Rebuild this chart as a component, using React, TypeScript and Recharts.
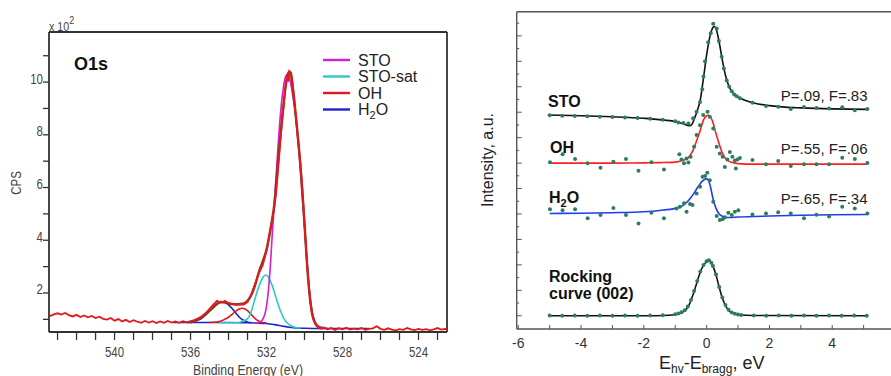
import React from 'react';
import { LineChart, Line, XAxis, YAxis, ReferenceLine } from 'recharts';

type P = [number, number];

const SANS = "'Liberation Sans', Arial, sans-serif";

// ---------- left panel: O1s spectrum (eV, x100 CPS) ----------
const o1sMeasured: P[] = [
  [543.4, 1.12], [543.2, 1.19], [543.0, 1.23], [542.8, 1.18], [542.6, 1.24], [542.4, 1.16], [542.2, 1.11],
  [542.0, 1.17], [541.8, 1.09], [541.6, 1.15], [541.4, 1.08], [541.2, 1.13], [541.0, 1.05], [540.8, 1.1],
  [540.6, 1.02], [540.4, 0.99], [540.2, 1.05], [540.0, 0.95], [539.8, 1.01], [539.6, 0.92], [539.4, 0.98],
  [539.2, 0.9], [539.0, 0.97], [538.8, 0.91], [538.6, 0.87], [538.4, 0.94], [538.2, 0.88], [538.0, 0.93],
  [537.8, 0.86], [537.6, 0.92], [537.4, 0.87], [537.2, 0.94], [537.0, 0.88], [536.8, 0.92], [536.6, 0.87],
  [536.4, 0.93], [536.2, 0.89], [536.0, 0.93], [535.8, 0.97], [535.6, 1.04], [535.4, 1.12], [535.2, 1.24],
  [535.0, 1.4], [534.8, 1.56], [534.6, 1.71], [534.5, 1.65], [534.4, 1.68], [534.3, 1.64], [534.2, 1.7],
  [534.0, 1.62], [533.8, 1.58], [533.6, 1.55], [533.4, 1.57], [533.2, 1.56], [533.0, 1.66], [532.8, 1.95],
  [532.6, 2.35], [532.4, 2.75], [532.2, 3.05], [532.0, 3.6], [531.9, 3.95], [531.8, 4.35], [531.7, 4.8],
  [531.6, 5.2], [531.5, 5.75], [531.4, 6.6], [531.3, 7.5], [531.2, 8.35], [531.1, 9.05], [531.0, 9.85],
  [530.9, 10.3], [530.85, 10.02], [530.8, 10.42], [530.7, 10.35], [530.6, 9.75], [530.5, 9.0], [530.4, 8.3],
  [530.3, 7.55], [530.2, 6.75], [530.1, 5.85], [530.0, 4.65], [529.9, 3.45], [529.8, 2.5], [529.7, 1.7],
  [529.6, 1.22], [529.5, 0.95], [529.4, 0.8], [529.3, 0.72], [529.2, 0.65], [529.0, 0.69], [528.8, 0.62],
  [528.6, 0.67], [528.4, 0.6], [528.2, 0.66], [528.0, 0.62], [527.8, 0.68], [527.6, 0.61], [527.4, 0.65],
  [527.2, 0.62], [527.0, 0.67], [526.8, 0.6], [526.6, 0.64], [526.4, 0.66], [526.2, 0.74], [526.0, 0.64],
  [525.8, 0.6], [525.6, 0.66], [525.4, 0.61], [525.2, 0.58], [525.0, 0.63], [524.8, 0.6], [524.6, 0.67],
  [524.4, 0.62], [524.2, 0.59], [524.0, 0.64], [523.8, 0.6], [523.6, 0.63], [523.4, 0.58], [523.2, 0.62],
  [523.0, 0.67], [522.8, 0.61], [522.6, 0.64], [522.5, 0.63],
];
const o1sEnvelope: P[] = [
  [536.0, 0.88], [535.6, 1.0], [535.2, 1.2], [534.8, 1.45], [534.6, 1.58], [534.4, 1.65], [534.2, 1.65],
  [534.0, 1.6], [533.8, 1.58], [533.6, 1.57], [533.4, 1.58], [533.2, 1.6], [533.0, 1.7], [532.8, 1.92],
  [532.6, 2.3], [532.4, 2.8], [532.2, 3.2], [532.0, 3.65], [531.8, 4.4], [531.6, 5.3], [531.4, 6.9],
  [531.2, 8.5], [531.0, 9.8], [530.9, 10.25], [530.8, 10.38], [530.7, 10.25], [530.6, 9.7], [530.4, 8.3],
  [530.2, 6.7], [530.0, 4.6], [529.8, 2.45], [529.6, 1.2], [529.4, 0.8], [529.2, 0.68], [529.0, 0.66],
];
const o1sBackground: P[] = [
  [536.9, 0.88], [536.0, 0.88], [535.0, 0.88], [534.0, 0.88], [533.0, 0.87], [532.5, 0.86], [532.0, 0.84],
  [531.6, 0.8], [531.2, 0.75], [530.8, 0.7], [530.4, 0.67], [530.0, 0.66], [529.0, 0.65], [528.0, 0.65],
  [527.0, 0.65], [526.6, 0.65],
];
const o1sSto: P[] = [
  [532.6, 0.86], [532.4, 0.88], [532.2, 1.0], [532.0, 1.5], [531.9, 2.1], [531.8, 3.0], [531.7, 4.2],
  [531.6, 5.3], [531.5, 6.4], [531.4, 7.5], [531.3, 8.5], [531.2, 9.3], [531.1, 9.85], [531.0, 10.2],
  [530.9, 10.3], [530.8, 10.2], [530.7, 9.85], [530.6, 9.4], [530.5, 8.9], [530.4, 8.2], [530.3, 7.4],
  [530.2, 6.5], [530.1, 5.5], [530.0, 4.5], [529.9, 3.5], [529.8, 2.55], [529.7, 1.8], [529.6, 1.3],
  [529.5, 1.0], [529.4, 0.85], [529.2, 0.72], [529.0, 0.68], [528.8, 0.66],
];
const o1sStoSat: P[] = [
  [534.5, 0.87], [533.6, 0.87], [533.4, 0.89], [533.2, 0.95], [533.0, 1.02], [532.8, 1.3], [532.6, 1.8],
  [532.4, 2.25], [532.2, 2.58], [532.05, 2.68], [531.9, 2.6], [531.7, 2.28], [531.5, 1.82], [531.3, 1.38],
  [531.1, 1.05], [530.9, 0.85], [530.7, 0.75], [530.5, 0.7], [530.2, 0.67],
];
const o1sOh: P[] = [
  [535.0, 0.88], [534.6, 0.9], [534.4, 0.94], [534.2, 1.0], [534.0, 1.08], [533.8, 1.2], [533.6, 1.32],
  [533.4, 1.4], [533.3, 1.42], [533.2, 1.41], [533.0, 1.33], [532.8, 1.18], [532.6, 1.03], [532.4, 0.93],
  [532.2, 0.88], [532.0, 0.86],
];
const o1sH2o: P[] = [
  [536.2, 0.88], [536.0, 0.89], [535.8, 0.92], [535.6, 0.97], [535.4, 1.05], [535.2, 1.17], [535.0, 1.32],
  [534.8, 1.48], [534.6, 1.6], [534.4, 1.66], [534.2, 1.64], [534.0, 1.55], [533.8, 1.4], [533.6, 1.22],
  [533.4, 1.06], [533.2, 0.96], [533.0, 0.9], [532.8, 0.87],
];

const beTicks = [543, 542, 541, 540, 539, 538, 537, 536, 535, 534, 533, 532, 531, 530, 529, 528, 527, 526, 525, 524, 523];
const cpsTicks = [1, 2, 3, 4, 5, 6, 7, 8, 9, 10, 11];
const legendItems = [
  { name: 'STO', color: '#d11fd1' },
  { name: 'STO-sat', color: '#2ec8c8' },
  { name: 'OH', color: '#e3191c' },
  { name: 'H2O', color: '#1f23c8' },
];

// ---------- right panel: yield curves (eV, a.u.) ----------
const stoFit: P[] = [
  [-5.0, 7.89], [-4.0, 7.86], [-3.0, 7.82], [-2.0, 7.76], [-1.5, 7.71], [-1.0, 7.63], [-0.8, 7.57],
  [-0.65, 7.5], [-0.55, 7.47], [-0.48, 7.5], [-0.4, 7.72], [-0.3, 8.05], [-0.2, 8.5], [-0.1, 9.35],
  [0.0, 10.25], [0.1, 10.95], [0.2, 11.33], [0.25, 11.37], [0.3, 11.28], [0.4, 10.75], [0.5, 10.05],
  [0.6, 9.45], [0.7, 9.05], [0.8, 8.82], [0.9, 8.68], [1.0, 8.6], [1.2, 8.48], [1.5, 8.36], [2.0, 8.26],
  [2.5, 8.2], [3.0, 8.17], [4.0, 8.13], [5.1, 8.11],
];
const stoPts: P[] = [
  [-5.0, 7.88], [-4.6, 7.86], [-4.2, 7.85], [-3.8, 7.84], [-3.4, 7.82], [-3.0, 7.81], [-2.6, 7.79],
  [-2.2, 7.77], [-1.8, 7.74], [-1.4, 7.7], [-1.0, 7.64], [-0.9, 7.6], [-0.74, 7.58], [-0.58, 7.56],
  [-0.43, 7.76], [-0.32, 8.02], [-0.21, 8.4], [-0.14, 8.9], [-0.1, 9.4], [-0.05, 10.0], [0.05, 10.75],
  [0.13, 11.1], [0.21, 11.48], [0.32, 11.29], [0.39, 10.8], [0.48, 10.18], [0.55, 9.72], [0.64, 9.25],
  [0.72, 9.0], [0.8, 8.82], [0.88, 8.7], [0.96, 8.63], [1.06, 8.55], [1.46, 8.37], [1.89, 8.24],
  [2.28, 8.21], [2.68, 8.13], [3.1, 8.2], [3.5, 8.17], [3.9, 8.15], [4.32, 8.19], [4.72, 8.08], [5.12, 8.13],
];
const ohFit: P[] = [
  [-5.0, 6.0], [-3.0, 6.0], [-2.0, 6.01], [-1.5, 6.02], [-1.0, 6.04], [-0.8, 6.09], [-0.6, 6.2],
  [-0.5, 6.35], [-0.4, 6.6], [-0.3, 6.95], [-0.2, 7.3], [-0.1, 7.7], [0.0, 7.86], [0.05, 7.88],
  [0.1, 7.85], [0.2, 7.6], [0.3, 7.15], [0.4, 6.75], [0.5, 6.4], [0.6, 6.18], [0.7, 6.08], [0.8, 6.03],
  [1.0, 5.98], [1.5, 5.96], [3.0, 5.96], [5.1, 5.96],
];
const ohPts: P[] = [
  [-4.99, 6.03], [-4.59, 6.35], [-4.19, 6.16], [-3.79, 5.99], [-3.38, 5.82], [-2.97, 6.05], [-2.57, 6.16],
  [-2.17, 5.7], [-1.76, 6.03], [-1.36, 5.75], [-0.87, 6.35], [-0.8, 6.14], [-0.72, 5.99], [-0.64, 6.18],
  [-0.58, 6.02], [-0.51, 6.25], [-0.4, 6.64], [-0.32, 7.1], [-0.21, 7.49], [-0.11, 7.89], [0.03, 8.02],
  [0.1, 7.82], [0.21, 7.36], [0.32, 6.64], [0.42, 6.38], [0.51, 6.25], [0.58, 5.85], [0.66, 6.14],
  [0.74, 6.44], [0.82, 6.25], [0.9, 6.1], [0.93, 5.79], [0.98, 6.14], [1.06, 6.2], [1.46, 6.12],
  [1.89, 5.95], [2.28, 6.08], [2.68, 5.89], [3.1, 5.95], [3.5, 5.95], [3.9, 5.95], [4.32, 6.21],
  [4.72, 6.16], [5.12, 6.0],
];
const h2oFit: P[] = [
  [-5.0, 4.02], [-4.0, 4.03], [-3.0, 4.05], [-2.0, 4.09], [-1.5, 4.14], [-1.0, 4.22], [-0.8, 4.3],
  [-0.6, 4.5], [-0.5, 4.65], [-0.4, 4.82], [-0.3, 5.02], [-0.2, 5.2], [-0.1, 5.33], [0.0, 5.38],
  [0.05, 5.34], [0.1, 5.18], [0.2, 4.62], [0.3, 4.22], [0.4, 4.0], [0.5, 3.91], [0.6, 3.87], [0.7, 3.86],
  [1.0, 3.88], [2.0, 3.92], [3.0, 3.95], [4.0, 3.97], [5.1, 3.98],
];
const h2oPts: P[] = [
  [-4.99, 4.19], [-4.59, 4.15], [-4.19, 4.19], [-3.79, 3.83], [-3.38, 3.96], [-2.97, 4.24], [-2.57, 3.96],
  [-2.17, 3.63], [-1.76, 4.05], [-1.36, 3.83], [-0.96, 4.22], [-0.85, 4.28], [-0.72, 4.42], [-0.64, 4.09],
  [-0.53, 4.39], [-0.45, 4.35], [-0.32, 4.81], [-0.21, 5.07], [-0.13, 5.46], [-0.05, 5.49], [0.02, 5.62],
  [0.1, 5.33], [0.21, 4.48], [0.32, 3.92], [0.42, 3.76], [0.51, 3.79], [0.58, 3.87], [0.69, 4.05],
  [0.8, 3.96], [0.9, 4.09], [1.01, 4.15], [1.46, 3.98], [1.89, 4.02], [2.28, 4.07], [2.68, 4.02],
  [3.1, 3.83], [3.5, 3.97], [3.9, 3.9], [4.32, 4.28], [4.72, 4.22], [5.12, 4.02],
];
const rockFit: P[] = [
  [-5.0, 0.0], [-2.0, 0.0], [-1.2, 0.02], [-1.0, 0.05], [-0.8, 0.12], [-0.6, 0.33], [-0.5, 0.6],
  [-0.4, 0.95], [-0.3, 1.35], [-0.2, 1.72], [-0.1, 1.98], [0.0, 2.12], [0.07, 2.15], [0.15, 2.08],
  [0.2, 1.95], [0.3, 1.6], [0.4, 1.12], [0.5, 0.7], [0.6, 0.4], [0.7, 0.22], [0.8, 0.12], [1.0, 0.05],
  [1.5, 0.01], [5.1, 0.0],
];
const rockPts: P[] = [
  [-5.0, 0.01], [-4.6, 0.0], [-4.2, 0.01], [-3.8, 0.0], [-3.4, 0.01], [-3.0, 0.0], [-2.6, 0.01],
  [-2.2, 0.0], [-1.8, 0.01], [-1.4, 0.02], [-1.0, 0.06], [-0.9, 0.09], [-0.8, 0.14], [-0.7, 0.22],
  [-0.6, 0.36], [-0.5, 0.62], [-0.4, 0.97], [-0.3, 1.37], [-0.2, 1.74], [-0.1, 2.0], [0.0, 2.14],
  [0.07, 2.18], [0.15, 2.08], [0.2, 1.96], [0.3, 1.62], [0.4, 1.13], [0.5, 0.72], [0.6, 0.42],
  [0.7, 0.24], [0.8, 0.13], [0.9, 0.08], [1.0, 0.05], [1.1, 0.03], [1.5, 0.01], [1.9, 0.0], [2.3, 0.01],
  [2.7, 0.0], [3.1, 0.01], [3.5, 0.0], [3.9, 0.01], [4.3, 0.0], [4.7, 0.01], [5.1, 0.0],
];

const ehvTicks = [-6, -5, -4, -3, -2, -1, 0, 1, 2, 3, 4, 5];
const intTicks = [0, 0.5, 1, 1.5, 2, 2.5, 3, 3.5, 4, 4.5, 5, 5.5, 6, 6.5, 7, 7.5, 8, 8.5, 9, 9.5, 10, 10.5, 11, 11.5];
const fitLabels = ['P=.09, F=.83', 'P=.55, F=.06', 'P=.65, F=.34'];

const toPts = (a: P[]) => a.map(([x, y]) => ({ x, y }));

// layout
const L = { left: 49, top: 32, bottom: 332, right: 447 };
const R = { left: 56.7, bottom: 329 };
const L_X: [number, number] = [522.5, 543.45];
const L_Y: [number, number] = [0.52, 11.9];
const R_X: [number, number] = [-6.05, 6.0];
const R_Y: [number, number] = [-0.52, 11.95];

// condensed text (the original uses a narrow Arial)
const NText = ({ x, y, size, anchor = 'start', rotate = 0, children }: any) => (
  <text transform={`translate(${x} ${y}) rotate(${rotate}) scale(0.82 1)`} textAnchor={anchor}
    fontSize={size} fontFamily={SANS} fill="#444">{children}</text>
);

const BeTick = ({ x, payload }: any) => {
  const v = payload.value;
  const major = v % 4 === 0;
  return (
    <g>
      <line x1={x} x2={x} y1={L.bottom} y2={L.bottom + 8} stroke="#333" strokeWidth={1.3} />
      {major && <NText x={x} y={357} size={14} anchor="middle">{v}</NText>}
    </g>
  );
};

const CpsTick = ({ y, payload }: any) => {
  const v = payload.value;
  const major = v % 2 === 0;
  return (
    <g>
      <line x1={L.left - 6} x2={L.left} y1={y} y2={y} stroke="#333" strokeWidth={1.3} />
      {major && <NText x={L.left - 6} y={y + 1.5} size={14} anchor="end">{v}</NText>}
    </g>
  );
};

const EhvTick = ({ x, payload }: any) => {
  const v = payload.value;
  return (
    <g>
      <line x1={x} x2={x} y1={R.bottom} y2={R.bottom - 4} stroke="#555" strokeWidth={1} />
      {v % 2 === 0 && (
        <text x={x} y={348} textAnchor="middle" fontSize={14} fontFamily={SANS} fill="#333">{v}</text>
      )}
    </g>
  );
};

const IntTick = ({ y, payload }: any) => {
  const major = Number.isInteger(payload.value);
  return <line x1={R.left} x2={R.left + (major ? 5 : 2.5)} y1={y} y2={y} stroke="#555" strokeWidth={1} />;
};

const DOT = { r: 2, fill: '#2e7d5e', stroke: 'none' };

export default function App() {
  return (
    <div style={{ position: 'absolute', left: 0, top: 0, width: 891, height: 376, overflow: 'hidden', background: '#fff' }}>
      <div style={{ position: 'absolute', left: 0, top: 0 }}>
        <LineChart width={460} height={376} margin={{ top: L.top, right: 460 - L.right, bottom: 0, left: 0 }}>
          <XAxis dataKey="x" type="number" domain={L_X} allowDataOverflow reversed ticks={beTicks} interval={0}
            height={44} tick={(p: any) => <BeTick {...p} />} tickLine={false} axisLine={{ stroke: '#333', strokeWidth: 1.8 }} />
          <YAxis type="number" domain={L_Y} allowDataOverflow ticks={cpsTicks} interval={0} width={49}
            tick={(p: any) => <CpsTick {...p} />} tickLine={false} axisLine={{ stroke: '#333', strokeWidth: 1.8 }} />
          <ReferenceLine y={L_Y[1]} stroke="#333" strokeWidth={1.8} />
          <ReferenceLine x={L_X[0]} stroke="#333" strokeWidth={1.8} />
          <Line data={toPts(o1sBackground)} dataKey="y" type="monotone" stroke="#1f23c8" strokeWidth={1.6} dot={false} isAnimationActive={false} />
          <Line data={toPts(o1sH2o)} dataKey="y" type="monotone" stroke="#1f23c8" strokeWidth={1.6} dot={false} isAnimationActive={false} />
          <Line data={toPts(o1sOh)} dataKey="y" type="monotone" stroke="#e3191c" strokeWidth={1.6} dot={false} isAnimationActive={false} />
          <Line data={toPts(o1sStoSat)} dataKey="y" type="monotone" stroke="#2ec8c8" strokeWidth={1.6} dot={false} isAnimationActive={false} />
          <Line data={toPts(o1sSto)} dataKey="y" type="monotone" stroke="#d11fd1" strokeWidth={1.6} dot={false} isAnimationActive={false} />
          <Line data={toPts(o1sEnvelope)} dataKey="y" type="monotone" stroke="#8a3d1c" strokeWidth={2.4} dot={false} isAnimationActive={false} />
          <Line data={toPts(o1sMeasured)} dataKey="y" type="linear" stroke="#e3191c" strokeWidth={1.8} dot={false} isAnimationActive={false} />
        </LineChart>
      </div>
      <div style={{ position: 'absolute', left: 460, top: 0 }}>
        <LineChart width={440} height={376} margin={{ top: 11.7, right: 5, bottom: 0, left: 0 }}>
          <XAxis dataKey="x" type="number" domain={R_X} allowDataOverflow ticks={ehvTicks} interval={0}
            height={47} tick={(p: any) => <EhvTick {...p} />} tickLine={false} axisLine={{ stroke: '#555', strokeWidth: 1.4 }} />
          <YAxis type="number" domain={R_Y} allowDataOverflow ticks={intTicks} interval={0} width={R.left}
            tick={(p: any) => <IntTick {...p} />} tickLine={false} axisLine={{ stroke: '#555', strokeWidth: 1.4 }} />
          <ReferenceLine y={R_Y[1]} stroke="#555" strokeWidth={1.4} />
          <Line data={toPts(stoFit)} dataKey="y" type="monotone" stroke="#111" strokeWidth={1.6} dot={false} isAnimationActive={false} />
          <Line data={toPts(ohFit)} dataKey="y" type="monotone" stroke="#ff1f1f" strokeWidth={1.6} dot={false} isAnimationActive={false} />
          <Line data={toPts(h2oFit)} dataKey="y" type="monotone" stroke="#1f3cf0" strokeWidth={1.6} dot={false} isAnimationActive={false} />
          <Line data={toPts(rockFit)} dataKey="y" type="monotone" stroke="#111" strokeWidth={1.6} dot={false} isAnimationActive={false} />
          <Line data={toPts(stoPts)} dataKey="y" stroke="none" dot={DOT} isAnimationActive={false} />
          <Line data={toPts(ohPts)} dataKey="y" stroke="none" dot={DOT} isAnimationActive={false} />
          <Line data={toPts(h2oPts)} dataKey="y" stroke="none" dot={DOT} isAnimationActive={false} />
          <Line data={toPts(rockPts)} dataKey="y" stroke="none" dot={DOT} isAnimationActive={false} />
        </LineChart>
      </div>
      <svg width={891} height={376} style={{ position: 'absolute', left: 0, top: 0, pointerEvents: 'none' }}>
        {/* left panel text */}
        <NText x={49} y={31} size={13}>
          x 10<tspan dy={-7} fontSize={11}>2</tspan>
        </NText>
        <text x={74} y={70} fontSize={18} fontWeight="bold" fontFamily={SANS} fill="#111">O1s</text>
        {legendItems.map((it, i) => {
          const y = 60 + i * 16.5;
          return (
            <g key={it.name}>
              <line x1={323} x2={350} y1={y} y2={y} stroke={it.color} strokeWidth={2.4} />
              <text x={358} y={y + 5.5} fontSize={16} fontFamily={SANS} fill="#222">
                {it.name === 'H2O' ? (<>H<tspan dy={3.5} fontSize={11}>2</tspan><tspan dy={-3.5}>O</tspan></>) : it.name}
              </text>
            </g>
          );
        })}
        <NText x={21} y={183} size={14} anchor="middle" rotate={-90}>CPS</NText>
        <NText x={248} y={374.5} size={15} anchor="middle">Binding Energy (eV)</NText>

        {/* right panel text */}
        <text x={548} y={107} fontSize={16} fontWeight="bold" fontFamily={SANS} fill="#111">STO</text>
        <text x={550} y={153} fontSize={16} fontWeight="bold" fontFamily={SANS} fill="#111">OH</text>
        <text x={549} y={203} fontSize={16} fontWeight="bold" fontFamily={SANS} fill="#111">
          H<tspan dy={4} fontSize={11}>2</tspan><tspan dy={-4}>O</tspan>
        </text>
        <text x={549} y={282} fontSize={16} fontWeight="bold" fontFamily={SANS} fill="#111">Rocking</text>
        <text x={549} y={299} fontSize={16} fontWeight="bold" fontFamily={SANS} fill="#111">curve (002)</text>
        {fitLabels.map((t, i) => (
          <text key={t} x={867.5} y={[100.7, 154, 204][i]} textAnchor="end" fontSize={15} fontFamily={SANS} fill="#222">{t}</text>
        ))}
        <text x={493} y={160} transform="rotate(-90 493 160)" textAnchor="middle" fontSize={16} fontFamily={SANS} fill="#222">Intensity, a.u.</text>
        <text x={711.7} y={368.5} textAnchor="middle" fontSize={18} fontFamily={SANS} fill="#222">
          E<tspan dy={4} fontSize={12}>hv</tspan><tspan dy={-4}>-E</tspan><tspan dy={4} fontSize={12}>bragg</tspan><tspan dy={-4}>, eV</tspan>
        </text>
      </svg>
    </div>
  );
}
